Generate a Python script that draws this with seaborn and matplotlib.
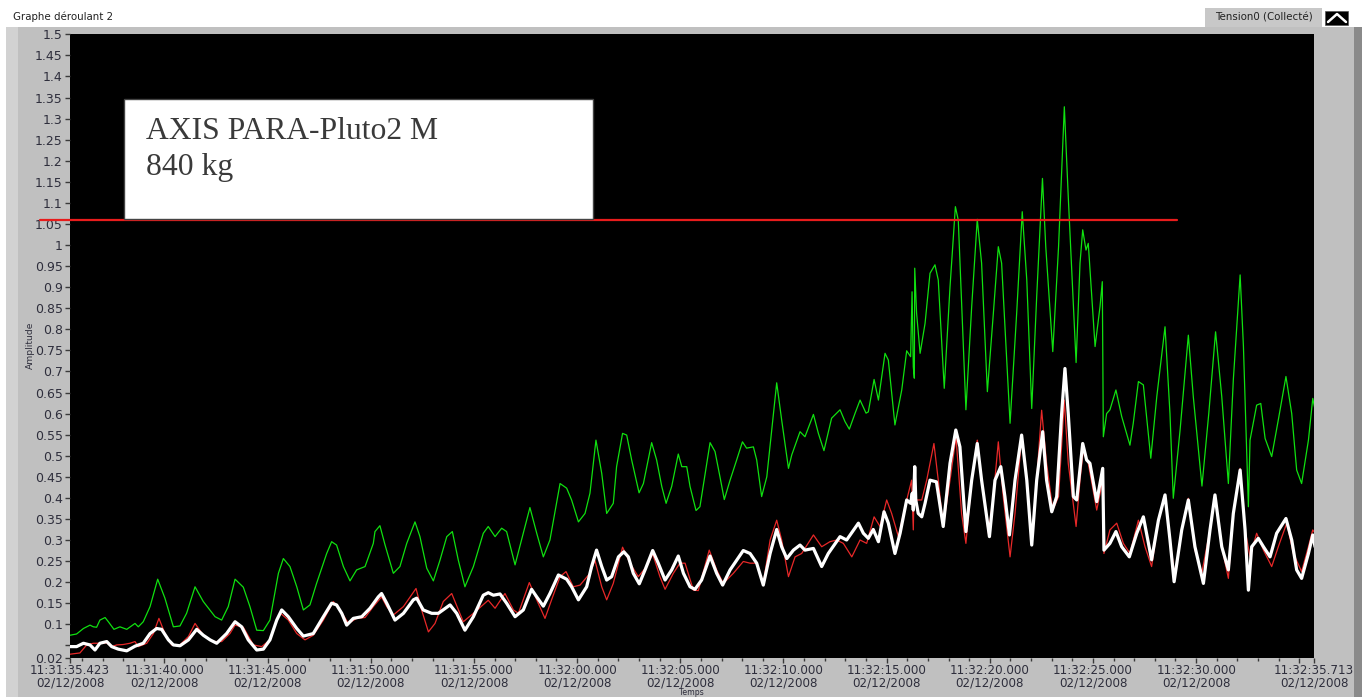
import matplotlib
matplotlib.use("Agg")
import matplotlib.pyplot as plt
from matplotlib.patches import Rectangle
from matplotlib.lines import Line2D
import numpy as np
import pandas as pd
import seaborn as sns

# ---------------- data (seconds after 11:31:35.423, amplitude) ----------------
green_t = [0.00, 0.32, 0.65, 0.97, 1.13, 1.29, 1.45, 1.70, 1.86, 2.13, 2.42, 2.75, 3.15, 3.31, 3.55, 3.88,
           4.25, 4.60, 5.01, 5.33, 5.65, 6.06, 6.46, 7.03, 7.35, 7.67, 8.00, 8.40, 8.72, 9.05, 9.37, 9.69,
           10.10, 10.34, 10.66, 10.99, 11.31, 11.63, 11.95, 12.44, 12.68, 12.92, 13.25, 13.57, 13.89, 14.30,
           14.70, 14.78, 15.02, 15.27, 15.67, 15.99, 16.32, 16.72, 16.96, 17.29, 17.61, 17.93, 18.26, 18.53,
           18.82, 19.14, 19.55, 20.03, 20.27, 20.60, 20.92, 21.16, 21.57, 21.97, 22.29, 22.62, 22.94, 23.26,
           23.75, 24.07, 24.31, 24.64, 24.96, 25.20, 25.49, 25.77, 26.01, 26.33, 26.49, 26.78, 26.98, 27.22,
           27.58, 27.79, 28.19, 28.43, 28.68, 28.89, 29.16, 29.48, 29.65, 29.89, 30.05, 30.34, 30.53, 31.02,
           31.26, 31.50, 31.71, 31.99, 32.31, 32.59, 32.79, 33.12, 33.28, 33.52, 33.77, 34.25, 34.49, 34.82,
           34.98, 35.38, 35.62, 36.03, 36.27, 36.54, 36.91, 37.32, 37.56, 37.77, 38.05, 38.29, 38.58, 38.69,
           38.97, 39.18, 39.50, 39.66, 39.98, 40.31, 40.55, 40.74, 40.81, 40.87, 40.92, 40.94, 41.03, 41.20,
           41.44, 41.68, 41.92, 42.08, 42.37, 42.65, 42.91, 43.05, 43.42, 43.70, 43.97, 44.18, 44.46, 44.75,
           44.99, 45.15, 45.56, 45.88, 46.15, 46.37, 46.61, 46.85, 47.13, 47.29, 47.63, 47.91, 48.19, 48.38,
           48.76, 48.95, 49.08, 49.24, 49.35, 49.68, 49.92, 50.03, 50.08, 50.24, 50.40, 50.69, 50.97, 51.37,
           51.53, 51.78, 52.02, 52.38, 52.67, 53.07, 53.31, 53.47, 53.80, 54.20, 54.44, 54.86, 55.19, 55.52,
           55.82, 56.14, 56.38, 56.71, 56.87, 57.11, 57.19, 57.51, 57.71, 57.92, 58.24, 58.56, 58.93, 59.21,
           59.45, 59.69, 60.02, 60.23, 60.34]
green_v = [0.074, 0.077, 0.090, 0.098, 0.094, 0.093, 0.110, 0.116, 0.106, 0.088, 0.094, 0.088, 0.102, 0.094, 0.106, 0.142,
           0.207, 0.162, 0.094, 0.096, 0.126, 0.189, 0.154, 0.118, 0.110, 0.142, 0.207, 0.188, 0.142, 0.086, 0.085, 0.110,
           0.221, 0.256, 0.237, 0.189, 0.134, 0.146, 0.197, 0.268, 0.296, 0.288, 0.237, 0.203, 0.229, 0.237,
           0.292, 0.320, 0.334, 0.288, 0.221, 0.237, 0.292, 0.343, 0.308, 0.233, 0.203, 0.252, 0.308, 0.320,
           0.252, 0.189, 0.237, 0.316, 0.332, 0.308, 0.328, 0.320, 0.241, 0.316, 0.377, 0.316, 0.260, 0.300,
           0.434, 0.423, 0.395, 0.343, 0.363, 0.411, 0.537, 0.458, 0.363, 0.387, 0.474, 0.553, 0.549, 0.490,
           0.412, 0.434, 0.531, 0.490, 0.427, 0.387, 0.427, 0.504, 0.474, 0.474, 0.427, 0.370, 0.379, 0.531,
           0.510, 0.450, 0.396, 0.442, 0.490, 0.533, 0.518, 0.521, 0.490, 0.403, 0.450, 0.673, 0.585, 0.470,
           0.502, 0.557, 0.545, 0.598, 0.553, 0.512, 0.589, 0.609, 0.581, 0.563, 0.601, 0.632, 0.601, 0.604,
           0.681, 0.632, 0.743, 0.727, 0.573, 0.656, 0.749, 0.735, 0.889, 0.711, 0.684, 0.945, 0.838, 0.743,
           0.814, 0.933, 0.953, 0.917, 0.660, 0.901, 1.091, 1.059, 0.609, 0.854, 1.061, 0.957, 0.652, 0.838,
           0.996, 0.957, 0.577, 0.838, 1.079, 0.917, 0.612, 0.877, 1.158, 0.996, 0.747, 0.996, 1.328, 1.115,
           0.721, 0.957, 1.036, 0.988, 1.004, 0.759, 0.854, 0.913, 0.545, 0.600, 0.609, 0.656, 0.593, 0.525,
           0.577, 0.676, 0.668, 0.494, 0.640, 0.806, 0.600, 0.399, 0.561, 0.786, 0.640, 0.428, 0.600, 0.794,
           0.640, 0.434, 0.680, 0.929, 0.759, 0.379, 0.537, 0.620, 0.624, 0.541, 0.498, 0.585, 0.688, 0.600,
           0.466, 0.434, 0.537, 0.636, 0.609]

white_t = [0.00, 0.32, 0.65, 0.97, 1.21, 1.45, 1.78, 2.02, 2.34, 2.75, 3.15, 3.55, 3.88, 4.20, 4.44, 4.77,
           5.01, 5.33, 5.74, 6.14, 6.46, 6.79, 7.11, 7.59, 8.00, 8.32, 8.64, 9.05, 9.37, 9.69, 10.02, 10.26,
           10.58, 10.99, 11.31, 11.79, 12.28, 12.68, 12.92, 13.17, 13.41, 13.73, 14.14, 14.54, 14.94, 15.10,
           15.35, 15.75, 16.16, 16.64, 16.80, 17.12, 17.53, 17.85, 18.42, 18.74, 19.14, 19.55, 20.03, 20.27,
           20.52, 20.84, 21.16, 21.57, 21.97, 22.37, 22.62, 22.94, 23.26, 23.67, 24.07, 24.31, 24.64, 25.04,
           25.28, 25.52, 25.77, 26.01, 26.25, 26.58, 26.84, 27.06, 27.30, 27.59, 27.87, 28.24, 28.51, 28.84,
           29.16, 29.48, 29.73, 30.05, 30.29, 30.61, 31.02, 31.34, 31.63, 31.99, 32.63, 32.96, 33.28, 33.60,
           33.93, 34.25, 34.49, 34.74, 35.06, 35.38, 35.62, 36.03, 36.43, 36.75, 37.32, 37.64, 38.21, 38.45,
           38.69, 38.93, 39.18, 39.45, 39.66, 39.98, 40.23, 40.55, 40.74, 40.82, 40.87, 40.94, 40.99, 41.11,
           41.28, 41.44, 41.68, 41.99, 42.32, 42.65, 42.93, 43.13, 43.42, 43.70, 43.97, 44.18, 44.56, 44.83,
           45.11, 45.31, 45.53, 45.80, 46.12, 46.37, 46.61, 46.85, 47.14, 47.33, 47.58, 47.82, 48.06, 48.22,
           48.38, 48.63, 48.79, 49.08, 49.27, 49.43, 49.76, 50.05, 50.11, 50.40, 50.69, 50.97, 51.34, 51.70,
           52.02, 52.42, 52.75, 53.07, 53.31, 53.51, 53.88, 54.20, 54.52, 54.93, 55.25, 55.49, 55.82, 56.14,
           56.38, 56.71, 56.95, 57.11, 57.27, 57.59, 57.84, 58.16, 58.48, 58.93, 59.21, 59.45, 59.69, 60.02,
           60.23, 60.34]
white_v = [0.047, 0.047, 0.055, 0.051, 0.039, 0.055, 0.059, 0.047, 0.041, 0.037, 0.048, 0.055, 0.078, 0.090, 0.088, 0.063,
           0.051, 0.049, 0.063, 0.088, 0.074, 0.063, 0.055, 0.078, 0.106, 0.094, 0.063, 0.039, 0.041, 0.063, 0.110, 0.134,
           0.118, 0.090, 0.072, 0.078, 0.118, 0.150, 0.146, 0.126, 0.098, 0.114, 0.118, 0.138, 0.165, 0.173,
           0.150, 0.110, 0.126, 0.158, 0.162, 0.134, 0.126, 0.126, 0.146, 0.126, 0.086, 0.118, 0.169, 0.175,
           0.169, 0.172, 0.150, 0.118, 0.134, 0.183, 0.165, 0.143, 0.173, 0.217, 0.207, 0.189, 0.158, 0.189,
           0.237, 0.276, 0.237, 0.205, 0.213, 0.260, 0.272, 0.260, 0.221, 0.196, 0.229, 0.275, 0.245, 0.205,
           0.229, 0.262, 0.221, 0.189, 0.183, 0.205, 0.262, 0.221, 0.193, 0.229, 0.275, 0.268, 0.245, 0.193,
           0.268, 0.325, 0.284, 0.256, 0.276, 0.288, 0.276, 0.280, 0.237, 0.268, 0.308, 0.300, 0.340, 0.316,
           0.304, 0.325, 0.296, 0.367, 0.340, 0.268, 0.316, 0.395, 0.387, 0.411, 0.371, 0.474, 0.395, 0.363,
           0.355, 0.387, 0.442, 0.438, 0.332, 0.482, 0.561, 0.521, 0.320, 0.442, 0.529, 0.442, 0.308, 0.442,
           0.474, 0.403, 0.312, 0.442, 0.549, 0.442, 0.288, 0.442, 0.557, 0.442, 0.367, 0.403, 0.600, 0.707,
           0.600, 0.403, 0.395, 0.529, 0.490, 0.482, 0.391, 0.470, 0.276, 0.292, 0.320, 0.284, 0.260, 0.316,
           0.355, 0.253, 0.347, 0.407, 0.300, 0.201, 0.324, 0.395, 0.284, 0.197, 0.324, 0.407, 0.284, 0.229,
           0.363, 0.466, 0.324, 0.181, 0.284, 0.304, 0.284, 0.260, 0.316, 0.351, 0.300, 0.229, 0.209, 0.268,
           0.312, 0.284]

red_t = [0.00, 0.48, 0.81, 1.13, 1.45, 1.78, 2.02, 2.26, 2.58, 2.91, 3.15, 3.31, 3.72, 4.04, 4.31, 4.60,
         4.93, 5.33, 5.74, 6.06, 6.46, 6.95, 7.35, 7.75, 8.00, 8.40, 8.89, 9.29, 9.69, 10.02, 10.21, 10.58,
         10.99, 11.39, 11.79, 12.28, 12.76, 13.09, 13.49, 13.89, 14.30, 14.70, 15.10, 15.35, 15.67, 16.16,
         16.77, 17.04, 17.37, 17.69, 18.09, 18.50, 19.06, 19.55, 20.27, 20.60, 21.08, 21.49, 21.73, 22.26,
         22.62, 23.02, 23.34, 23.75, 24.04, 24.39, 24.72, 25.20, 25.44, 25.77, 26.01, 26.33, 26.78, 27.14,
         27.54, 27.95, 28.24, 28.59, 28.84, 29.24, 29.56, 29.81, 30.21, 30.45, 30.98, 31.34, 31.66, 32.15,
         32.63, 32.96, 33.28, 33.60, 33.93, 34.25, 34.49, 34.82, 35.14, 35.46, 36.03, 36.43, 36.83, 37.16,
         37.48, 37.89, 38.29, 38.61, 38.97, 39.26, 39.58, 39.82, 40.15, 40.47, 40.79, 40.87, 40.92, 40.99,
         41.28, 41.52, 41.87, 42.08, 42.32, 42.65, 42.94, 43.21, 43.42, 43.70, 43.97, 44.18, 44.51, 44.75,
         44.99, 45.23, 45.56, 45.80, 46.12, 46.37, 46.61, 46.85, 47.09, 47.33, 47.63, 47.91, 48.19, 48.38,
         48.76, 48.95, 49.11, 49.35, 49.76, 50.05, 50.11, 50.40, 50.73, 51.05, 51.37, 51.78, 52.10, 52.42,
         52.75, 53.07, 53.31, 53.55, 53.88, 54.20, 54.52, 54.85, 55.25, 55.49, 55.82, 56.14, 56.38, 56.71,
         56.95, 57.19, 57.51, 57.84, 58.24, 58.56, 58.97, 59.29, 59.69, 60.02, 60.23, 60.34]
red_v = [0.029, 0.032, 0.051, 0.055, 0.055, 0.056, 0.047, 0.051, 0.052, 0.055, 0.059, 0.047, 0.055, 0.078, 0.114, 0.078,
         0.051, 0.051, 0.071, 0.102, 0.074, 0.059, 0.059, 0.078, 0.098, 0.093, 0.051, 0.047, 0.063, 0.110, 0.126, 0.110,
         0.078, 0.063, 0.074, 0.110, 0.154, 0.134, 0.102, 0.114, 0.116, 0.142, 0.165, 0.142, 0.122, 0.142,
         0.185, 0.134, 0.082, 0.102, 0.154, 0.173, 0.106, 0.126, 0.157, 0.138, 0.173, 0.134, 0.126, 0.199,
         0.158, 0.114, 0.158, 0.213, 0.225, 0.189, 0.193, 0.221, 0.252, 0.189, 0.158, 0.197, 0.283, 0.245,
         0.213, 0.237, 0.267, 0.213, 0.183, 0.221, 0.245, 0.245, 0.181, 0.180, 0.276, 0.229, 0.197, 0.221,
         0.249, 0.245, 0.245, 0.197, 0.300, 0.347, 0.300, 0.213, 0.260, 0.268, 0.312, 0.284, 0.296, 0.300,
         0.292, 0.260, 0.300, 0.292, 0.355, 0.332, 0.395, 0.363, 0.308, 0.379, 0.442, 0.324, 0.458, 0.395,
         0.395, 0.442, 0.529, 0.442, 0.332, 0.442, 0.545, 0.363, 0.292, 0.442, 0.537, 0.442, 0.316, 0.403,
         0.533, 0.403, 0.260, 0.363, 0.545, 0.442, 0.300, 0.442, 0.608, 0.482, 0.371, 0.403, 0.632, 0.482,
         0.332, 0.442, 0.514, 0.482, 0.371, 0.442, 0.268, 0.324, 0.340, 0.292, 0.268, 0.347, 0.284, 0.237,
         0.347, 0.403, 0.300, 0.213, 0.324, 0.399, 0.276, 0.221, 0.324, 0.403, 0.284, 0.209, 0.363, 0.470,
         0.324, 0.260, 0.316, 0.276, 0.237, 0.284, 0.340, 0.268, 0.225, 0.284, 0.324, 0.316]

threshold = 1.06

y_tick_values = [0.02, 0.05, 0.1, 0.15, 0.2, 0.25, 0.3, 0.35, 0.4, 0.45, 0.5, 0.55, 0.6, 0.65, 0.7, 0.75,
                 0.8, 0.85, 0.9, 0.95, 1.0, 1.05, 1.1, 1.15, 1.2, 1.25, 1.3, 1.35, 1.4, 1.45, 1.5]
y_tick_labels = ["0.02", "", "0.1", "0.15", "0.2", "0.25", "0.3", "0.35", "0.4", "0.45", "0.5", "0.55", "0.6",
                 "0.65", "0.7", "0.75", "0.8", "0.85", "0.9", "0.95", "1", "1.05", "1.1", "1.15", "1.2", "1.25",
                 "1.3", "1.35", "1.4", "1.45", "1.5"]

start_time = "11:31:35.423"
end_time = "11:32:35.713"
x_tick_times = ["11:31:35.423", "11:31:40.000", "11:31:45.000", "11:31:50.000", "11:31:55.000",
                "11:32:00.000", "11:32:05.000", "11:32:10.000", "11:32:15.000", "11:32:20.000",
                "11:32:25.000", "11:32:30.000", "11:32:35.000", "11:32:35.713"]
x_tick_show = [True] * 12 + [False, True]
date_label = "02/12/2008"

# ---------------- figure ----------------
sns.set_style("dark", {"axes.facecolor": "black"})
plt.rcParams['font.family'] = ['DejaVu Sans']

W, H = 1365, 697
fig = plt.figure(figsize=(W / 100, H / 100), dpi=100)
fig.patch.set_facecolor('white')


def fx(px):
    return px / W


def fy(py):
    return 1 - py / H


# LabVIEW-like grey panel (drawn beneath the axes)
fig.patches.append(Rectangle((fx(6), 0), fx(1350), fy(27), transform=fig.transFigure,
                             facecolor='#c0c0c0', edgecolor='none', zorder=-3))
fig.patches.append(Rectangle((fx(6), 0), fx(12), fy(27), transform=fig.transFigure,
                             facecolor='#d2d2d2', edgecolor='none', zorder=-2))
fig.patches.append(Rectangle((fx(1354), 0), fx(8), fy(27), transform=fig.transFigure,
                             facecolor='#8a8a8a', edgecolor='none', zorder=-2))

top_px, bot_px = 34.3, 658.0
ax = fig.add_axes([fx(70), fy(bot_px), fx(1244), (bot_px - top_px) / H])
ax.set_zorder(2)
ax.set_facecolor('black')

sns.lineplot(data=pd.DataFrame({"t": green_t, "v": green_v}), x="t", y="v", ax=ax,
             color='#10e010', linewidth=0.9, estimator=None, sort=False, zorder=3)
sns.lineplot(data=pd.DataFrame({"t": red_t, "v": red_v}), x="t", y="v", ax=ax,
             color='#e82828', linewidth=0.9, estimator=None, sort=False, zorder=4)
sns.lineplot(data=pd.DataFrame({"t": white_t, "v": white_v}), x="t", y="v", ax=ax,
             color='#ffffff', linewidth=2.3, estimator=None, sort=False, zorder=5)

t0 = pd.to_datetime(start_time, format="%H:%M:%S.%f")
t1 = pd.to_datetime(end_time, format="%H:%M:%S.%f")
span = (t1 - t0).total_seconds()
ax.set_xlim(0, span)
ax.set_ylim(0.02, 1.5)

# threshold line (extends a little left of the plot, like the reference)
ax.axhline(threshold, xmin=-30 / 1244, xmax=(1177 - 70) / 1244, color='#e81c1c',
           linewidth=1.6, clip_on=False, zorder=6)

ax.set_yticks(y_tick_values)
ax.set_yticklabels(y_tick_labels)

major_pos = [(pd.to_datetime(s, format="%H:%M:%S.%f") - t0).total_seconds() for s in x_tick_times]
major_lab = [f"{s}\n{date_label}" if show else "" for s, show in zip(x_tick_times, x_tick_show)]
ax.set_xticks(major_pos)
ax.set_xticklabels(major_lab, linespacing=1.0)
frac = major_pos[1] % 1.0
minor_pos = [p for p in np.arange(frac, span, 1.0)
             if min(abs(p - m) for m in major_pos) > 0.05]
ax.set_xticks(minor_pos, minor=True)

tick_col = '#2e2e3c'
ax.tick_params(axis='y', which='major', length=3.6, width=1, color='#3a3a3a', pad=1.5,
               labelsize=9, labelcolor=tick_col, left=True)
ax.tick_params(axis='x', which='major', length=3.6, width=1, color='#3a3a3a', pad=0.5,
               labelsize=8.6, labelcolor=tick_col, bottom=True)
ax.tick_params(axis='x', which='minor', length=2.2, width=1, color='#3a3a3a', bottom=True)
ax.grid(False)
for sp in ax.spines.values():
    sp.set_visible(False)
ax.set_xlabel("")
ax.set_ylabel("")

# axis titles
fig.text(fx(30), fy(345), "Amplitude", rotation=90, ha='center', va='center', fontsize=6.6, color=tick_col)
fig.text(fx(691), fy(697), "Temps", ha='center', va='bottom', fontsize=5.6, color=tick_col, zorder=1)

# window title and legend
fig.text(fx(13), fy(17), "Graphe déroulant 2", ha='left', va='center', fontsize=7.4, color='#222222')
fig.patches.append(Rectangle((fx(1205), fy(27)), fx(117), 19 / H, transform=fig.transFigure,
                             facecolor='#c8c8c8', edgecolor='none', zorder=1))
fig.text(fx(1264), fy(17), "Tension0 (Collecté)", ha='center', va='center', fontsize=7.4,
         color='#222222', zorder=2)
fig.patches.append(Rectangle((fx(1325), fy(25)), fx(23), 14 / H, transform=fig.transFigure,
                             facecolor='black', edgecolor='#555555', linewidth=0.5, zorder=2))
fig.lines.append(Line2D([fx(1328), fx(1337), fx(1346)], [fy(22), fy(14), fy(22)],
                        transform=fig.transFigure, color='white', linewidth=1.8, zorder=3))

# annotation box
fig.patches.append(Rectangle((fx(124), fy(219)), fx(469), 120 / H, transform=fig.transFigure,
                             facecolor='white', edgecolor='#444444', linewidth=1.0, zorder=7))
fig.text(fx(146), fy(139), "AXIS PARA-Pluto2 M", ha='left', va='baseline', fontsize=22.8,
         family='Liberation Serif', color='#3a3a3a', zorder=8)
fig.text(fx(146), fy(175), "840 kg", ha='left', va='baseline', fontsize=22.8,
         family='Liberation Serif', color='#3a3a3a', zorder=8)

fig.savefig("out.png", dpi=100, facecolor=fig.get_facecolor())
